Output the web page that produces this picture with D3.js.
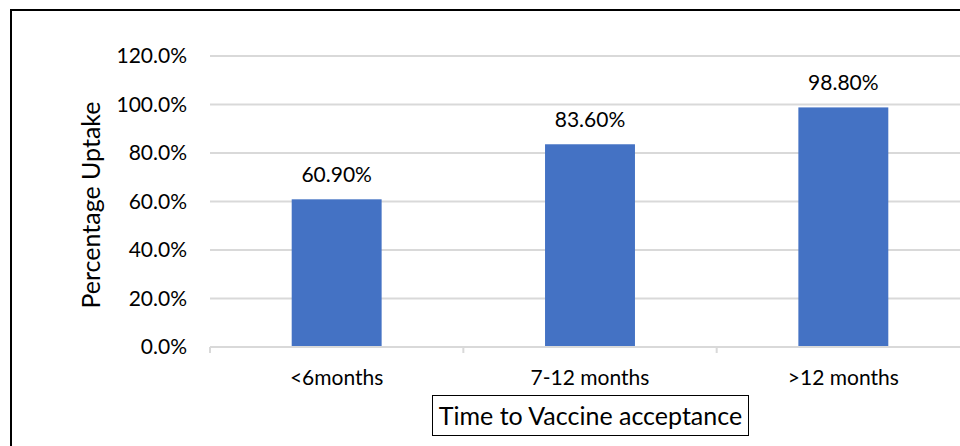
<!DOCTYPE html>
<html>
<head>
<meta charset="utf-8">
<script src="https://cdn.jsdelivr.net/npm/d3@7"></script>
<style>
  html, body { margin: 0; padding: 0; background: #fff; }
  svg { display: block; }
  text { font-family: Lato, "Open Sans", sans-serif; fill: #000; }
</style>
</head>
<body>
<svg id="chart" width="960" height="446"></svg>
<script>
// Uptake by time to vaccine acceptance
const categories = ["<6months", "7-12 months", ">12 months"];
const uptake = [60.9, 83.6, 98.8];
const valueLabels = ["60.90%", "83.60%", "98.80%"];
const yTicks = [0, 20, 40, 60, 80, 100, 120];

const svg = d3.select("#chart");
const plot = { left: 210, right: 970, top: 56, bottom: 347 };
const labelSize = 21;
const titleSize = 25;

// outer frame
svg.append("rect")
  .attr("x", 11).attr("y", 10)
  .attr("width", 1000).attr("height", 500)
  .attr("fill", "none").attr("stroke", "#000").attr("stroke-width", 2);

const x = d3.scaleBand().domain(categories).range([plot.left, plot.right]).paddingInner(0.645).paddingOuter(0.3225);
const y = d3.scaleLinear().domain([0, 120]).range([plot.bottom, plot.top]);

// gridlines
svg.append("g").selectAll("line").data(yTicks.filter(d => d > 0)).join("line")
  .attr("x1", plot.left).attr("x2", plot.right)
  .attr("y1", d => y(d)).attr("y2", d => y(d))
  .attr("stroke", "#d9d9d9").attr("stroke-width", 2);

// y axis labels
const yAxis = svg.append("g")
  .attr("transform", `translate(${plot.left},0)`)
  .call(d3.axisLeft(y).tickValues(yTicks).tickFormat(d => d.toFixed(1) + "%").tickSize(0).tickPadding(23));
yAxis.select(".domain").remove();
yAxis.selectAll("text").attr("font-size", labelSize).attr("font-family", "Lato, 'Open Sans', sans-serif").attr("fill", "#000");

// bars
svg.append("g").selectAll("rect").data(uptake).join("rect")
  .attr("x", (d, i) => x(categories[i]))
  .attr("width", x.bandwidth())
  .attr("y", d => y(d))
  .attr("height", d => y(0) - y(d))
  .attr("fill", "#4472c4");

// value labels
svg.append("g").selectAll("text").data(uptake).join("text")
  .attr("x", (d, i) => x(categories[i]) + x.bandwidth() / 2)
  .attr("y", d => y(d) - 17.5)
  .attr("text-anchor", "middle")
  .attr("font-size", labelSize)
  .text((d, i) => valueLabels[i]);

// x axis with boundary ticks
const step = (plot.right - plot.left) / categories.length;
const xAxisG = svg.append("g");
xAxisG.append("line")
  .attr("x1", plot.left).attr("x2", plot.right)
  .attr("y1", plot.bottom).attr("y2", plot.bottom)
  .attr("stroke", "#d9d9d9").attr("stroke-width", 2);
xAxisG.selectAll("line.tick").data(d3.range(categories.length + 1)).join("line")
  .attr("class", "tick")
  .attr("x1", i => plot.left + i * step).attr("x2", i => plot.left + i * step)
  .attr("y1", plot.bottom).attr("y2", plot.bottom + 6)
  .attr("stroke", "#d9d9d9").attr("stroke-width", 2);
xAxisG.selectAll("text").data(categories).join("text")
  .attr("x", d => x(d) + x.bandwidth() / 2)
  .attr("y", 385)
  .attr("text-anchor", "middle")
  .attr("font-size", labelSize)
  .text(d => d);

// y axis title
svg.append("text")
  .attr("transform", "translate(100,205) rotate(-90)")
  .attr("text-anchor", "middle")
  .attr("font-size", titleSize)
  .text("Percentage Uptake");

// x axis title in a box
svg.append("rect")
  .attr("x", 432.5).attr("y", 395.5).attr("width", 316).attr("height", 40)
  .attr("fill", "#fff").attr("stroke", "#000").attr("stroke-width", 1);
svg.append("text")
  .attr("x", 590.5).attr("y", 425)
  .attr("text-anchor", "middle")
  .attr("font-size", titleSize)
  .text("Time to Vaccine acceptance");
</script>
</body>
</html>
